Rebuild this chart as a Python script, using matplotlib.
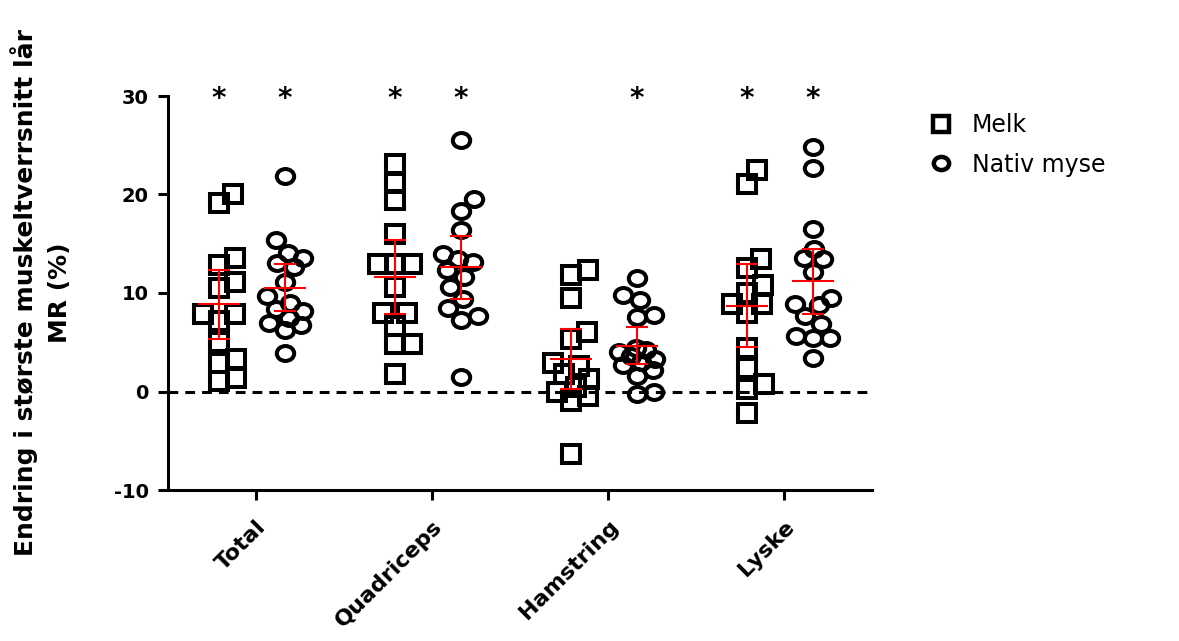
import numpy as np
import matplotlib
matplotlib.use("Agg")
import matplotlib.pyplot as plt
from matplotlib.path import Path
from matplotlib.transforms import Affine2D
from matplotlib.lines import Line2D

plt.rcParams["font.family"] = ["DejaVu Sans"]
plt.rcParams["axes.unicode_minus"] = False

categories = ["Total", "Quadriceps", "Hamstring", "Lyske"]
series_labels = ["Melk", "Nativ myse"]

# endring i % per deltaker, lest av figuren
melk_total = [20.1, 19.1, 13.6, 12.8, 11.1, 10.5, 7.9, 7.2, 7.9, 5.0, 2.9, 3.3, 1.1, 1.4]
melk_quad = [23.1, 21.2, 19.4, 16.0, 12.9, 12.9, 12.9, 10.6, 8.0, 8.0, 6.7, 4.8, 4.8, 1.8]
melk_ham = [12.3, 11.8, 9.5, 6.0, 5.3, 2.9, 2.6, 1.8, 1.3, 0.5, 0.0, -0.5, -1.0, -6.3]
melk_lyske = [22.5, 21.1, 13.5, 12.5, 10.8, 10.0, 8.9, 8.9, 8.0, 4.4, 2.4, 0.8, 0.3, -2.2]

nativ_total = [21.9, 15.4, 14.1, 13.6, 13.0, 12.6, 11.1, 9.7, 9.0, 8.4, 8.2, 7.5, 7.0, 6.8,
               6.2, 3.9]
nativ_quad = [25.5, 19.5, 18.3, 16.4, 14.0, 13.5, 13.1, 12.3, 11.6, 10.6, 9.4, 8.5, 7.7,
              7.3, 1.5]
nativ_ham = [11.5, 9.8, 9.3, 7.8, 7.6, 4.4, 4.2, 4.0, 3.6, 3.3, 3.0, 2.7, 2.2, 1.6, 0.0,
             -0.3]
nativ_lyske = [24.8, 22.7, 16.5, 14.5, 13.6, 13.5, 12.1, 9.5, 8.9, 8.8, 7.7, 6.9, 5.4, 5.4,
               5.6, 3.4]

melk = [melk_total, melk_quad, melk_ham, melk_lyske]
nativ = [nativ_total, nativ_quad, nativ_ham, nativ_lyske]

# signifikant endring (*)
stars_melk = [True, True, False, True]
stars_nativ = [True, True, True, True]

yticks = [-10, 0, 10, 20, 30]

# t-verdier for 95% KI
T95 = {12: 2.179, 13: 2.160, 14: 2.145, 15: 2.131, 16: 2.120}


def swarm(ax, xc, values, min_dist=17.0, max_w=18):
    """Enkel beeswarm i pikselrom, returnerer x-posisjoner i dataenheter."""
    vals = np.asarray(values, dtype=float)
    pts = ax.transData.transform(np.column_stack([np.full(len(vals), xc), vals]))
    px_per_x = ax.transData.transform((1, 0))[0] - ax.transData.transform((0, 0))[0]
    steps = np.arange(1, max_w + 1)
    cands = np.concatenate([[0], np.column_stack([steps, -steps]).ravel()])
    placed = []
    offsets = np.zeros(len(vals))
    for i in np.argsort(vals):
        y = pts[i, 1]
        best, best_d = 0, -1.0
        for c in cands:
            d = min((np.hypot(c - px, y - py) for px, py in placed), default=np.inf)
            if d >= min_dist:
                best = c
                break
            if d > best_d:
                best, best_d = c, d
        placed.append((best, y))
        offsets[i] = best
    return xc + offsets / px_per_x


fig = plt.figure(figsize=(11.79, 6.41), dpi=100)
ax = fig.add_axes([168 / 1179, 1 - 490 / 641, 704 / 1179, 394 / 641])
ax.set_xlim(-0.5, 3.5)
ax.set_ylim(-10, 30)

ellipse = Path.unit_circle().transformed(Affine2D().scale(1, 0.86))
styles = [dict(marker="s", ms=12.7), dict(marker=ellipse, ms=12.5)]
offsets = [-0.21, 0.165]

ax.axhline(0, color="black", lw=2.2, ls=(0, (3.2, 2.3)), zorder=1)

for data, stars, sty, off in zip([melk, nativ], [stars_melk, stars_nativ], styles, offsets):
    for i, vals in enumerate(data):
        xc = i + off
        xs = swarm(ax, xc, vals)
        ax.plot(xs, vals, ls="none", mfc="none", mec="black", mew=2.9, zorder=3, **sty)
        n = len(vals)
        mean = np.mean(vals)
        ci = T95[n - 1] * np.std(vals, ddof=1) / np.sqrt(n)
        ax.hlines(mean, xc - 0.12, xc + 0.12, color="#ff0000", lw=1.5, zorder=4)
        ax.errorbar(xc, mean, yerr=ci, fmt="none", ecolor="#ff0000", elinewidth=1.5,
                    capsize=8, capthick=1.5, zorder=4)
        if stars[i]:
            ax.text(xc, 29.7, "*", ha="center", va="center", fontsize=20,
                    fontweight="bold", clip_on=False)

for side in ["top", "right"]:
    ax.spines[side].set_visible(False)
for side in ["left", "bottom"]:
    ax.spines[side].set_linewidth(2.2)

ax.set_yticks(yticks)
ax.set_xticks(range(len(categories)))
ax.set_xticklabels(categories, rotation=45, ha="right", rotation_mode="anchor")
ax.tick_params(width=2.2, length=7, labelsize=14)
ax.tick_params(axis="y", pad=7)
ax.tick_params(axis="x", pad=12, labelsize=16)
for lab in ax.get_xticklabels() + ax.get_yticklabels():
    lab.set_fontweight("bold")

ax.set_ylabel("Endring i største muskeltverrsnitt lår\nMR (%)", fontsize=18,
              fontweight="bold", linespacing=1.5)
ax.yaxis.set_label_coords(-0.137, 0.5)

handles = [
    Line2D([], [], ls="none", marker="s", ms=11, mfc="none", mec="black", mew=3.2),
    Line2D([], [], ls="none", marker=ellipse, ms=11, mfc="none", mec="black", mew=3.2),
]
ax.legend(handles, series_labels, loc="upper left", bbox_to_anchor=(1.065, 0.98),
          frameon=False, fontsize=17, handletextpad=0.7, labelspacing=0.65,
          borderaxespad=0, handlelength=1.2)

fig.savefig("out.png", dpi=100)
